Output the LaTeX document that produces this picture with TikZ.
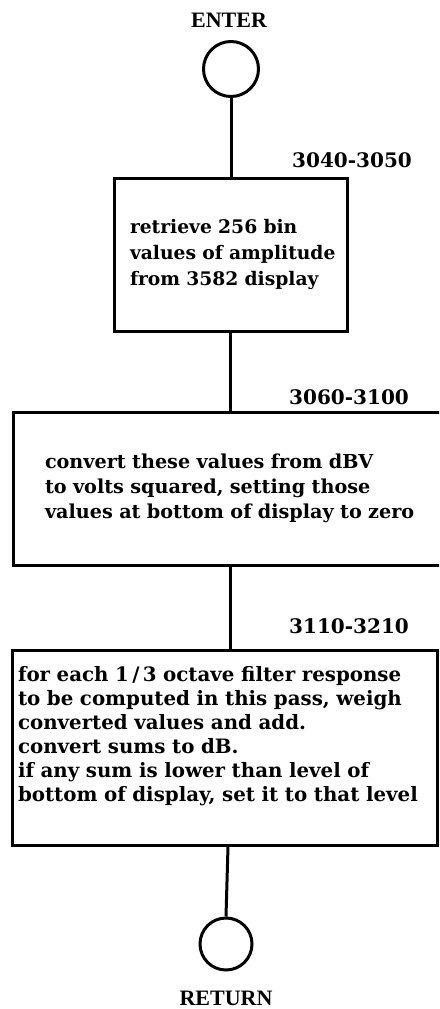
\documentclass[tikz,border=0pt]{standalone}
\usepackage{fontspec}
\setmainfont{DejaVu Serif}
\newfontfamily\hdfont{Liberation Serif}
\begin{document}
\begin{tikzpicture}[x=1pt,y=-1pt,
  term/.style={circle, draw, line width=3pt, minimum size=55pt, inner sep=0pt},
  proc/.style={rectangle, draw, line width=3pt, align=left, inner ysep=0pt},
  reflabel/.style={font=\bfseries\fontsize{20}{22}\selectfont, inner sep=0pt},
  title/.style={font=\hdfont\bfseries\fontsize{22}{24}\selectfont, inner sep=0pt},
  link/.style={line width=3pt}]
\useasboundingbox (0,0) rectangle (439,1009);
\clip (0,0) rectangle (439,1009);

\node[title] (enter) at (229,20) {ENTER};
\node[term] (c1) at (231,69) {};

\node[proc, font=\bfseries\fontsize{18.7}{26}\selectfont, text width=201pt, inner xsep=16pt, minimum height=153pt] (b1) at (230.5,254.5)
  {\mbox{retrieve 256 bin}\\\mbox{values of amplitude}\\\mbox{from 3582 display}};
\node[reflabel] (l1) at (352,160) {3040-3050};

\node[proc, font=\bfseries\fontsize{19.2}{25}\selectfont, text width=380pt, inner xsep=32pt, minimum height=153pt] (b2) at (235,488.5)
  {\mbox{convert these values from dBV}\\\mbox{to volts squared, setting those}\\\mbox{values at bottom of display to zero}};
\node[reflabel] (l2) at (349,397) {3060-3100};

\node[proc, font=\bfseries\fontsize{19.8}{24}\selectfont, text width=413pt, inner xsep=6pt, minimum height=195pt] (b3) at (224.5,747.5)
  {\mbox{for each 1\,/\,3 octave filter response}\\\mbox{to be computed in this pass, weigh}\\\mbox{converted values and add.}\\\mbox{convert sums to dB.}\\\mbox{if any sum is lower than level of}\\\mbox{bottom of display, set it to that level}\\\rule{0pt}{22pt}};
\node[reflabel] (l3) at (349,626) {3110-3210};

\node[term, minimum size=52pt] (c2) at (226,944) {};
\node[title] (ret) at (226,998) {RETURN};

\draw[link] (c1.south) -- (c1.south |- b1.north);
\draw[link] (b1.south) -- (b1.south |- b2.north);
\draw[link] ([xshift=-5pt]b2.south) -- ([xshift=-5pt]b2.south |- b3.north);
\draw[link] ([xshift=3.5pt]b3.south) -- (c2.north);
\end{tikzpicture}
\end{document}
